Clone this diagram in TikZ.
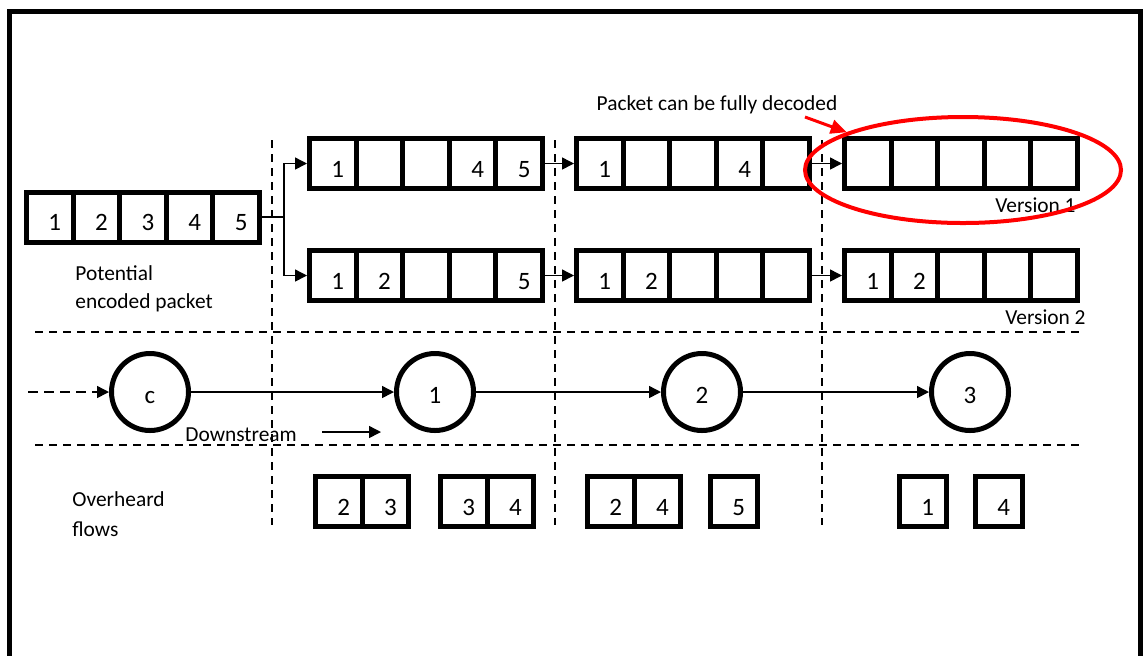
\documentclass[tikz,border=0pt]{standalone}
\usepackage{fontspec}
\setmainfont{Carlito}
\usetikzlibrary{arrows.meta,shapes.geometric}

\tikzset{
  cell/.style={rectangle, draw, line width=2.5pt, minimum width=23.3pt, minimum height=25pt,
    inner sep=0pt, text height=13.9pt, text depth=0pt, font=\fontsize{12.5}{14}\selectfont},
  station/.style={circle, draw, line width=2.5pt, minimum size=38.5pt, inner sep=0pt,
    text height=11.9pt, text depth=0pt, font=\fontsize{12.5}{14}\selectfont},
  conn/.style={line width=0.75pt, -{Triangle[length=6pt,width=6pt]}},
  divider/.style={line width=0.6pt, dash pattern=on 4pt off 3pt},
  lbl/.style={font=\fontsize{10.7}{12}\selectfont, inner sep=0pt},
}

% packet: name, left edge, centre y, cell texts
\newcommand{\pkt}[4]{%
  \foreach \cval [count=\i] in {#4}
    \node[cell] (#1\i) at ({#2+25.8+46.6*(\i-1)},#3) {\hspace*{5pt}\cval};
}

\begin{document}
\begin{tikzpicture}[x=0.5pt, y=-0.5pt]
    \useasboundingbox (0,0) rectangle (1144,655);

    % Frame (open at the bottom)
    \draw[line width=2.5pt] (9.5,700) -- (9.5,11.5) -- (1140.5,11.5) -- (1140.5,700);

    % Dividers
    \draw[divider] (35,332) -- (1080,332);
    \draw[divider] (35,445) -- (1080,445);
    \draw[divider] (272,140) -- (272,525);
    \draw[divider] (555,140) -- (555,525);
    \draw[divider] (822,140) -- (822,525);

    % Packets
    \pkt{src}{24}{217}{1,2,3,4,5}
    \pkt{pa}{307}{163.5}{1,{},{},4,5}
    \pkt{pb}{574}{163.5}{1,{},{},4,{}}
    \pkt{pc}{842}{163.5}{{},{},{},{},{}}
    \pkt{qa}{307}{275.5}{1,2,{},{},5}
    \pkt{qb}{574}{275.5}{1,2,{},{},{}}
    \pkt{qc}{842}{275.5}{1,2,{},{},{}}

    % Overheard flows
    \pkt{oa}{313}{501.5}{2,3}
    \pkt{ob}{438}{501.5}{3,4}
    \pkt{oc}{585}{501.5}{2,4}
    \pkt{od}{708}{501.5}{5}
    \pkt{oe}{897}{501.5}{1}
    \pkt{of}{973}{501.5}{4}

    % Packet links
    \coordinate (fork) at (284,217);
    \draw[line width=0.75pt] (src5.east) -- (fork);
    \draw[conn] (fork) |- (pa1.west);
    \draw[conn] (fork) |- (qa1.west);
    \draw[conn] (pa5.east) -- (pb1.west);
    \draw[conn] (pb5.east) -- (pc1.west);
    \draw[conn] (qa5.east) -- (qb1.west);
    \draw[conn] (qb5.east) -- (qc1.west);

    % Stations
    \node[station] (nc) at (150,392) {c};
    \node[station] (n1) at (435,392) {1};
    \node[station] (n2) at (702,392) {2};
    \node[station] (n3) at (970,392) {3};

    \coordinate (feed) at (28,392);
    \draw[conn, dash pattern=on 5pt off 3pt] (feed) -- (nc);
    \draw[conn] (nc) -- (n1);
    \draw[conn] (n1) -- (n2);
    \draw[conn] (n2) -- (n3);

    \coordinate (dsa) at (322,432);
    \coordinate (dsb) at (381,432);
    \draw[conn] (dsa) -- (dsb);

    % Labels
    \node[lbl, anchor=west] (pot) at (75,273) {Potential};
    \node[lbl, anchor=west] (enc) at (75,303) {encoded packet};
    \node[lbl, anchor=west] (ovh) at (72,499) {Overheard};
    \node[lbl, anchor=west] (flw) at (72,529) {flows};
    \node[lbl, anchor=west] (down) at (185,435) {Downstream};
    \node[lbl, anchor=east] (ver1) at (1076,205) {Version 1};
    \node[lbl, anchor=east] (ver2) at (1086,317) {Version 2};
    \node[lbl] (dec) at (717,105) {Packet can be fully decoded};

    % Decoded mark
    \node[ellipse, draw=red, line width=2pt, minimum width=158pt, minimum height=53pt,
      inner sep=0pt] (decode) at (963,170) {};
    \coordinate (rs) at (805,117);
    \draw[red, line width=1.5pt, -{Triangle[length=8pt,width=7pt]}] (rs) -- (decode.162.5);
\end{tikzpicture}
\end{document}
